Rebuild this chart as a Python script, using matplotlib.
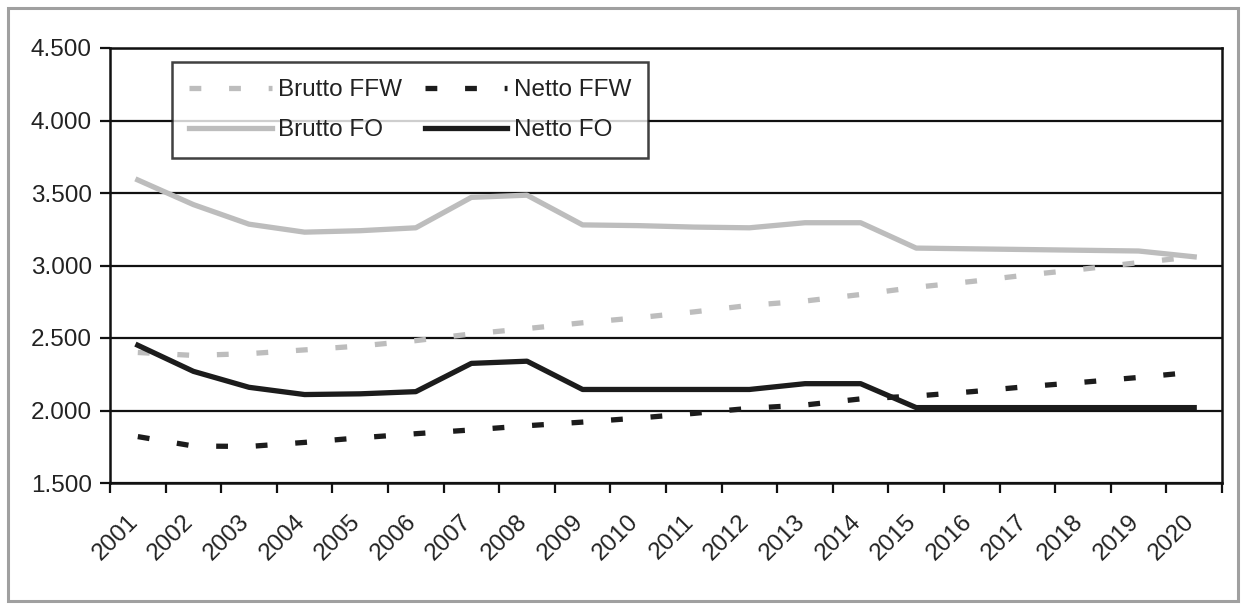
import matplotlib
matplotlib.use("Agg")
import matplotlib.pyplot as plt
from matplotlib.patches import Rectangle
from matplotlib.ticker import FuncFormatter, FixedLocator
import matplotlib.transforms as mtransforms

plt.rcParams['font.family'] = ['Liberation Sans', 'DejaVu Sans']
plt.rcParams['lines.scale_dashes'] = False

years = [str(y) for y in range(2001, 2021)]
brutto_ffw = [2400, 2380, 2392, 2418, 2445, 2482, 2528, 2565, 2605, 2640,
              2680, 2725, 2755, 2800, 2850, 2890, 2935, 2975, 3020, 3060]
netto_ffw = [1820, 1755, 1752, 1780, 1812, 1840, 1866, 1895, 1920, 1948,
             1980, 2015, 2038, 2080, 2100, 2130, 2165, 2195, 2228, 2265]
brutto_fo = [3590, 3420, 3285, 3230, 3240, 3260, 3470, 3485, 3280, 3275,
             3265, 3260, 3295, 3295, 3120, 3115, 3110, 3105, 3100, 3060]
netto_fo = [2450, 2270, 2160, 2110, 2115, 2130, 2325, 2340, 2145, 2145,
            2145, 2145, 2185, 2185, 2020, 2020, 2020, 2020, 2020, 2020]
y_ticks = [1500, 2000, 2500, 3000, 3500, 4000, 4500]

W, H = 1252, 604
FS = 17.5
fig = plt.figure(figsize=(W / 100, H / 100), dpi=100)
fig.patch.set_facecolor('white')

# outer chart frame
fig.patches.append(Rectangle((8 / W, 3 / H), (1238 - 8) / W, (596 - 3) / H,
                             transform=fig.transFigure, fill=False,
                             edgecolor='#a0a0a0', linewidth=2.2))

ax = fig.add_axes([110 / W, 1 - 483 / H, (1222 - 110) / W, (483 - 48) / H])
x = list(range(len(years)))

light = '#bdbdbd'
dark = '#1c1c1c'
lw = 3.8
dash = (0, (8.5, 20))

l_bffw, = ax.plot(x, brutto_ffw, color=light, lw=lw, linestyle=dash,
                  dash_capstyle='butt', label='Brutto FFW')
l_nffw, = ax.plot(x, netto_ffw, color=dark, lw=lw, linestyle=dash,
                  dash_capstyle='butt', label='Netto FFW')
l_bfo, = ax.plot(x, brutto_fo, color=light, lw=lw, solid_joinstyle='round',
                 label='Brutto FO')
l_nfo, = ax.plot(x, netto_fo, color=dark, lw=lw, solid_joinstyle='round',
                 label='Netto FO')

ax.set_xlim(-0.5, len(years) - 0.5)
ax.set_ylim(1500, 4500)
ax.set_yticks(y_ticks)
ax.yaxis.set_major_formatter(FuncFormatter(lambda v, p: f"{int(v):,}".replace(',', '.')))
ax.grid(axis='y', color='#111111', linewidth=1.6)
ax.set_axisbelow(True)

for s in ax.spines.values():
    s.set_color('#111111')
    s.set_linewidth(1.8)

ax.tick_params(axis='y', direction='out', length=7, width=1.6, color='#111111',
               labelsize=FS, labelcolor='#222222', pad=6)

# category boundaries carry the tick marks, centres carry the labels
ax.xaxis.set_major_locator(FixedLocator([i - 0.5 for i in range(len(years) + 1)]))
ax.xaxis.set_major_formatter(FuncFormatter(lambda v, p: ''))
ax.set_xticks(x, minor=True)
ax.set_xticklabels(years, minor=True)
ax.tick_params(axis='x', which='major', direction='out', length=7, width=1.6,
               color='#111111')
ax.tick_params(axis='x', which='minor', length=0, labelsize=FS,
               labelcolor='#222222', pad=20)
offset = mtransforms.ScaledTranslation(-11 / 100, 0, fig.dpi_scale_trans)
for lab in ax.get_xticklabels(minor=True):
    lab.set_rotation(45)
    lab.set_ha('right')
    lab.set_va('top')
    lab.set_rotation_mode('anchor')
    lab.set_transform(lab.get_transform() + offset)

leg = fig.legend([l_bffw, l_bfo, l_nffw, l_nfo],
                 ['Brutto FFW', 'Brutto FO', 'Netto FFW', 'Netto FO'],
                 ncol=2, loc='upper left',
                 bbox_to_anchor=(172 / W, 1 - 62 / H),
                 frameon=True, fancybox=False, fontsize=FS,
                 handlelength=3.4, handletextpad=0.25, columnspacing=0.95,
                 borderpad=0.7, labelspacing=0.75, borderaxespad=0)
leg.get_frame().set_edgecolor('#111111')
leg.get_frame().set_linewidth(1.8)
for t in leg.get_texts():
    t.set_color('#222222')

fig.savefig('out.png', dpi=100, facecolor='white')
